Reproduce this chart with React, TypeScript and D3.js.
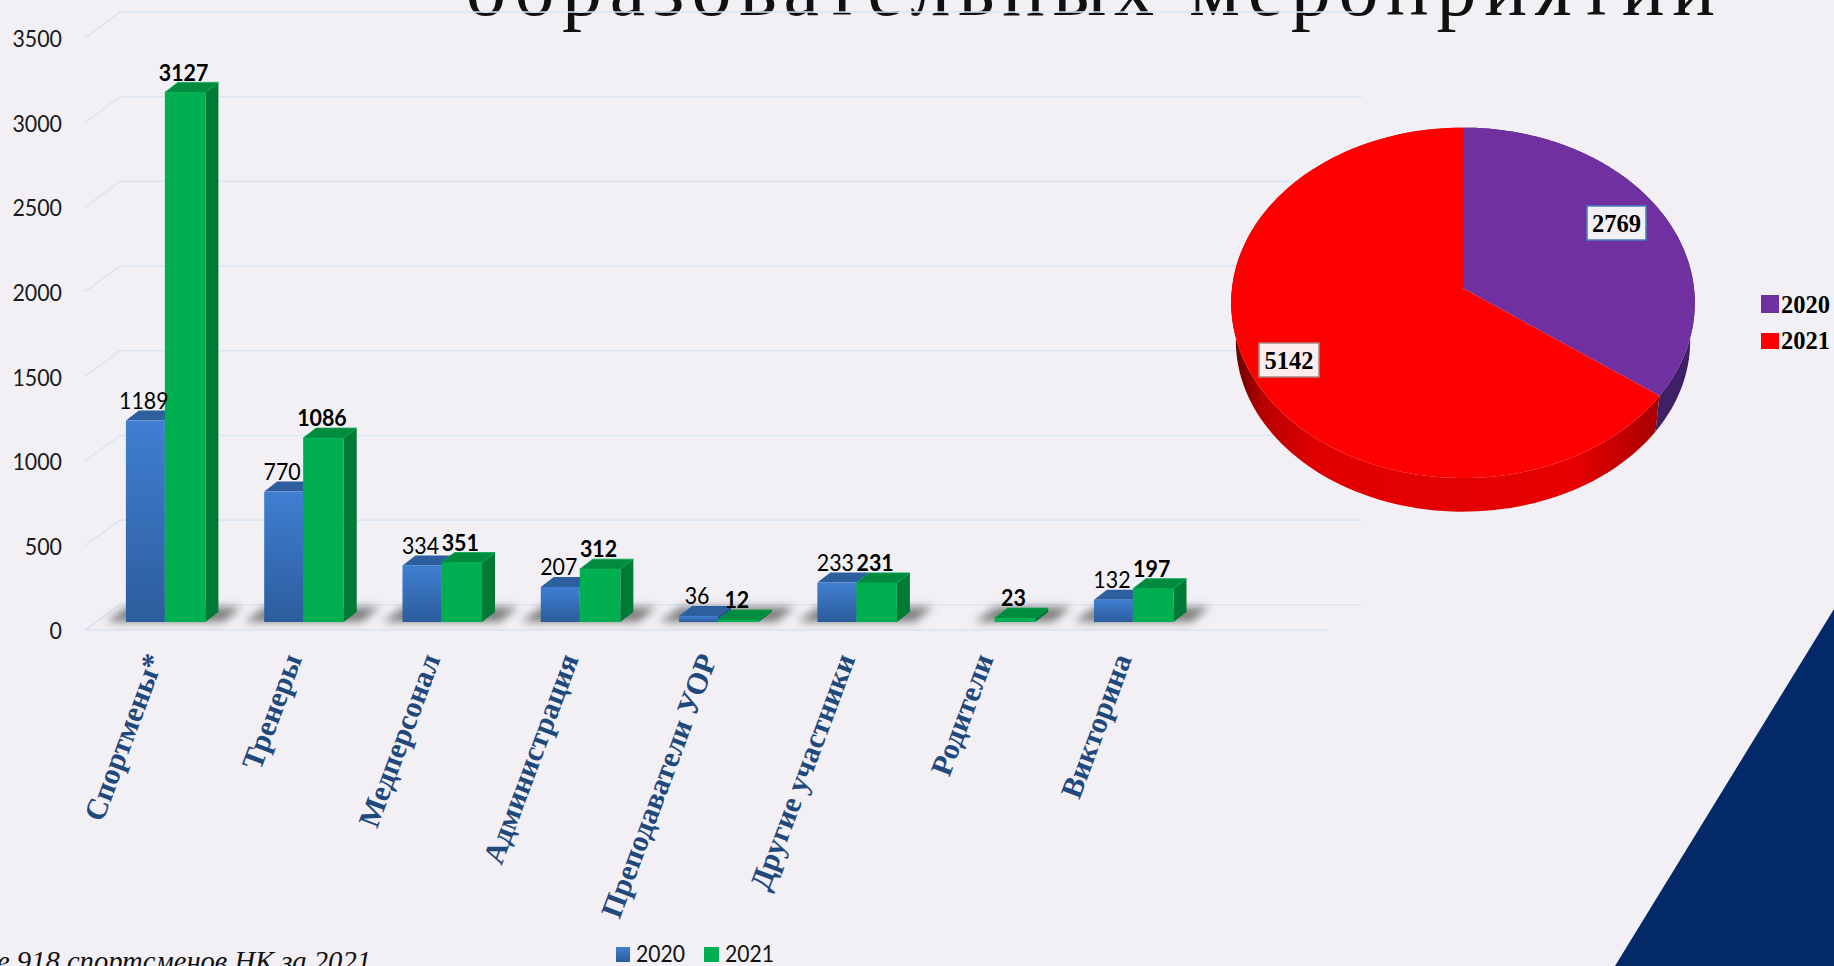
import React from "react";
import * as d3 from "d3";

const categories = ["Спортмены*", "Тренеры", "Медперсонал", "Администрация", "Преподаватели УОР", "Другие участники", "Родители", "Викторина"];
const values2020: (number | null)[] = [1189, 770, 334, 207, 36, 233, null, 132];
const values2021: number[] = [3127, 1086, 351, 312, 12, 231, 23, 197];
const yTicks = [0, 500, 1000, 1500, 2000, 2500, 3000, 3500];
const seriesNames = ["2020", "2021"];
const pieNames = ["2020", "2021"];
const pieValues = [2769, 5142];
const pieColors = ["#7030a0", "#ff0000"];
const title = "образовательных мероприятий";
const footnote = "ие 918 спортсменов НК за 2021";

const W = 1834, H = 966;
const BG = "#f2f0f5", GRID = "#d9e5f4";

const yFront = d3.scaleLinear().domain([0, 3500]).range([630, 38]);
const yBack = d3.scaleLinear().domain([0, 3500]).range([604.8, 12]);
const yBar = d3.scaleLinear().domain([0, 3500]).range([622, 29.2]);
const x0 = d3.scaleBand<string>().domain(categories).range([125.9, 125.9 + 8 * 138.3 - 58.8]).paddingInner(0.425).paddingOuter(0);
const DX = 13, DY = 10;

function Bar({ x, w, v, blue }: { x: number; w: number; v: number; blue: boolean }) {
  const t = yBar(v), b = yBar(0);
  const top = d3.path();
  top.moveTo(x, t); top.lineTo(x + DX, t - DY); top.lineTo(x + w + DX, t - DY); top.lineTo(x + w, t); top.closePath();
  const side = d3.path();
  side.moveTo(x + w, t); side.lineTo(x + w + DX, t - DY); side.lineTo(x + w + DX, b - DY); side.lineTo(x + w, b); side.closePath();
  return (
    <g>
      <path d={side.toString()} fill={blue ? "#255187" : "#007a35"} />
      <path d={top.toString()} fill={blue ? "#2d5f9e" : "#008b3f"} stroke={blue ? "none" : "#00a84c"} strokeWidth={0.8} />
      <rect x={x} y={t} width={w} height={b - t} fill={blue ? "url(#blueGrad)" : "#00b050"} />
    </g>
  );
}

function Num({ x, y, v, bold }: { x: number; y: number; v: number; bold?: boolean }) {
  const s = String(v);
  return (
    <text x={x} y={y} dy="0.36em" textAnchor="middle" fontFamily="Lato" fontSize={23} fontWeight={bold ? 700 : 400} fill="#000"
      textLength={s.length * 12.4} lengthAdjust="spacingAndGlyphs">{s}</text>
  );
}

// pie projection: unit circle → perspective ellipse
const PX = 1463, PA = 288.3, PB = 174, PC = -0.083, PR = 231;
function topPt(a: number): [number, number] {
  const u = Math.sin(a), v = -Math.cos(a), k = 1 + PC * v;
  return [PX + (PR * u) / k, PA + (PB * v) / k];
}
function botPt(a: number): [number, number] {
  const [x, y] = topPt(a);
  return [PX + (x - PX) * 0.98, 303 + (y - 303) * 0.975 + 38];
}
const pieArcs = d3.pie<number>().sort(null)(pieValues);
const arcSamples = (a0: number, a1: number) => d3.range(0, 121).map((i) => a0 + ((a1 - a0) * i) / 120);
const poly = d3.line();

export default function App() {
  const bw = x0.bandwidth();
  return (
    <svg width={W} height={H} viewBox={`0 0 ${W} ${H}`} style={{ position: "absolute", left: 0, top: 0, display: "block" }}>
      <defs>
        <linearGradient id="blueGrad" x1="0" y1="0" x2="0" y2="1">
          <stop offset="0" stopColor="#3f7fd2" />
          <stop offset="1" stopColor="#2c5d9c" />
        </linearGradient>
        <linearGradient id="redSide" gradientUnits="userSpaceOnUse" x1="1232" y1="0" x2="1660" y2="0">
          <stop offset="0" stopColor="#5e0000" />
          <stop offset="0.07" stopColor="#b80000" />
          <stop offset="0.2" stopColor="#e00000" />
          <stop offset="0.8" stopColor="#e60000" />
          <stop offset="1" stopColor="#a80000" />
        </linearGradient>
        <filter id="shadowBlur" x="-30%" y="-100%" width="160%" height="300%">
          <feGaussianBlur stdDeviation="4.5" />
        </filter>
      </defs>
      <rect width={W} height={H} fill={BG} />

      <text x={466} y={14.7} fontFamily="'Liberation Serif'" fontSize={80} fill="#111" textLength={1249} lengthAdjust="spacing">{title}</text>

      {yTicks.map((t) => (
        <path key={t} fill="none" stroke={GRID} strokeWidth={1.6} d={`M85,${yFront(t)}L120,${yBack(t)}H1362`} />
      ))}
      <line x1={85} x2={1328} y1={yFront(0)} y2={yFront(0)} stroke={GRID} strokeWidth={1.6} />

      {yTicks.map((t) => {
        const s = String(t);
        return (
          <text key={t} x={62} y={yFront(t) + 1} dy="0.36em" textAnchor="end" fontFamily="Lato" fontSize={23} fill="#1a1a1a"
            textLength={s.length * 12.4} lengthAdjust="spacingAndGlyphs">{s}</text>
        );
      })}

      {categories.map((c, i) => {
        const x = x0(c)!;
        const left = values2020[i] === null ? x + bw * 0.49 : x;
        return (
          <polygon key={c} points={`${left - 20},622 ${left + 1},607 ${x + bw + 36},607 ${x + bw + 18},622`} fill="#808080" filter="url(#shadowBlur)" />
        );
      })}

      {categories.map((c, i) => {
        const x = x0(c)!;
        const a = values2020[i], b = values2021[i];
        return (
          <g key={c}>
            {a !== null && <Bar x={x} w={bw * 0.49} v={a} blue />}
            <Bar x={x + bw * 0.49} w={bw * 0.51} v={b} blue={false} />
          </g>
        );
      })}

      {categories.map((c, i) => {
        const x = x0(c)!;
        const a = values2020[i], b = values2021[i];
        return (
          <g key={c}>
            {a !== null && <Num x={x + bw * 0.245 - 1.5} y={yBar(a) - 20} v={a} />}
            <Num x={x + bw * 0.745 - 1.5} y={yBar(b) - 20} v={b} bold />
          </g>
        );
      })}

      {categories.map((c) => {
        const x = x0(c)! + bw / 2 - 11.5;
        return (
          <text key={c} transform={`translate(${x},655) rotate(-69.5)`} dy="0.35em" textAnchor="end" fontFamily="'Liberation Serif'" fontWeight={700} fontSize={30.2} fill="#1f497d">{c}</text>
        );
      })}

      <text x={371} y={971} textAnchor="end" fontFamily="'Liberation Serif'" fontStyle="italic" fontSize={28.6} fill="#111">{footnote}</text>

      <g fontFamily="Lato" fontSize={23} fill="#111">
        <rect x={616} y={947} width={14} height={15} fill="url(#blueGrad)" />
        <text x={636} y={954} dy="0.36em" textLength={49} lengthAdjust="spacingAndGlyphs">{seriesNames[0]}</text>
        <rect x={704} y={947} width={15} height={15} fill="#00b050" />
        <text x={725} y={954} dy="0.36em" textLength={49} lengthAdjust="spacingAndGlyphs">{seriesNames[1]}</text>
      </g>

      <polygon points="1834,609 1615,966 1834,966" fill="#032968" />

      {pieArcs.map((d, i) => {
        const tp = arcSamples(d.startAngle, d.endAngle).map(topPt);
        const bp = arcSamples(d.startAngle, d.endAngle).map(botPt).reverse();
        return <path key={i} d={poly([...tp, ...bp] as [number, number][])! + "Z"} fill={i === 0 ? "#3f1f66" : "url(#redSide)"} />;
      })}
      {pieArcs.map((d, i) => {
        const pts = arcSamples(d.startAngle, d.endAngle).map(topPt);
        return <path key={i} d={poly([[PX, PA], ...pts] as [number, number][])! + "Z"} fill={pieColors[i]} />;
      })}

      <rect x={1587} y={206} width={59} height={34} fill="#f2f0f5" stroke="#4a7ebb" strokeWidth={1.5} />
      <text x={1616.5} y={223} dy="0.35em" textAnchor="middle" fontFamily="'Liberation Serif'" fontWeight={700} fontSize={26} fill="#000" textLength={49} lengthAdjust="spacingAndGlyphs">{pieValues[0]}</text>
      <rect x={1259} y={343} width={60} height={34} fill="#fdeeee" stroke="#a98585" strokeWidth={1.5} />
      <text x={1289} y={360} dy="0.35em" textAnchor="middle" fontFamily="'Liberation Serif'" fontWeight={700} fontSize={26} fill="#000" textLength={49} lengthAdjust="spacingAndGlyphs">{pieValues[1]}</text>

      <g fontFamily="'Liberation Serif'" fontWeight={700} fontSize={26} fill="#000">
        <rect x={1761} y={295} width={18} height={18} fill={pieColors[0]} />
        <text x={1781} y={303.5} dy="0.35em" textLength={49} lengthAdjust="spacingAndGlyphs">{pieNames[0]}</text>
        <rect x={1761} y={333} width={18} height={16} fill={pieColors[1]} />
        <text x={1781} y={340} dy="0.35em" textLength={49} lengthAdjust="spacingAndGlyphs">{pieNames[1]}</text>
      </g>
    </svg>
  );
}
